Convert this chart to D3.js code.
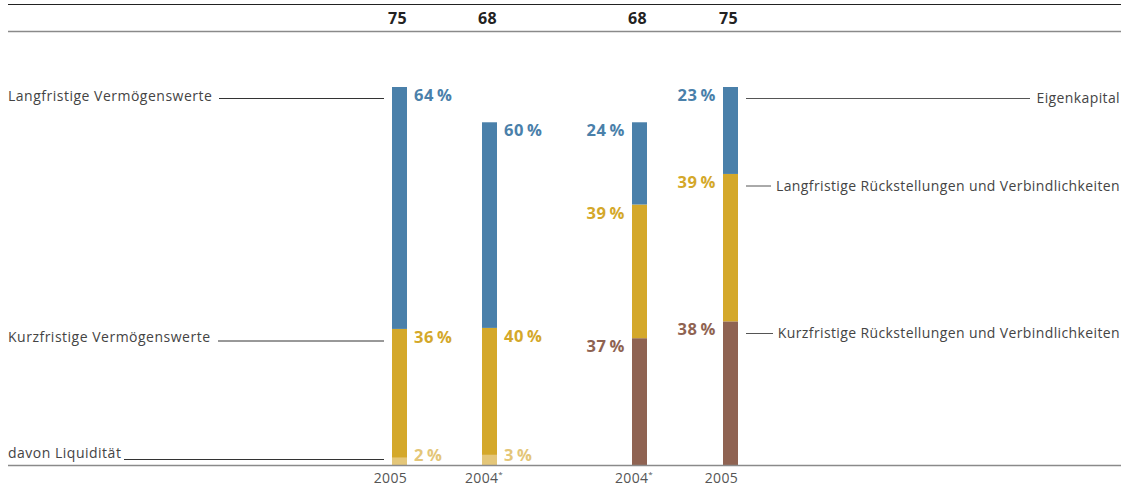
<!DOCTYPE html>
<html><head><meta charset="utf-8">
<script src="https://cdn.jsdelivr.net/npm/d3@7"></script>
<style>
html,body{margin:0;padding:0;background:#fff;}
svg{display:block;}
</style></head>
<body>
<script>
// ---- data ----
const categories = ["2005", "2004", "2004", "2005"];
const footnote = ["", "*", "*", ""];
const totals = [75, 68, 68, 75];
const sides = ["assets", "assets", "liab", "liab"];
// assets (bars 0,1)
const longAssets = [64, 60];
const shortAssets = [36, 40];
const liquidity = [2, 3];
// liabilities (bars 2,3)
const equity = [24, 23];
const longLiab = [39, 39];
const shortLiab = [37, 38];
const leftLabels = ["Langfristige Vermögenswerte", "Kurzfristige Vermögenswerte", "davon Liquidität"];
const rightLabels = ["Eigenkapital", "Langfristige Rückstellungen und Verbindlichkeiten", "Kurzfristige Rückstellungen und Verbindlichkeiten"];

const colors = {blue:"#4a80aa", yellow:"#d4a82a", light:"#e4c678", brown:"#8f6352"};
const W = 1124, H = 487;
const svg = d3.select("body").append("svg").attr("width", W).attr("height", H);
const font = "'Open Sans', Lato, sans-serif";
const pfont = "'Open Sans', Lato, sans-serif";

const y = d3.scaleLinear().domain([0, 75]).range([465, 87]);
const x = d3.scaleOrdinal().domain([0,1,2,3]).range([392, 482, 632, 723]);
const bw = 15;

// build segments
const bars = categories.map((c, i) => {
  let segs;
  if (sides[i] === "assets") {
    const k = i;
    segs = [
      {p: shortAssets[k], col: colors.yellow},
      {p: longAssets[k], col: colors.blue}
    ];
  } else {
    const k = i - 2;
    segs = [
      {p: shortLiab[k], col: colors.brown},
      {p: longLiab[k], col: colors.yellow},
      {p: equity[k], col: colors.blue}
    ];
  }
  let acc = 0;
  segs.forEach(s => { s.v0 = acc; acc += totals[i] * s.p / 100; s.v1 = acc; });
  return {i, segs};
});

// frame lines
svg.append("line").attr("x1", 8).attr("x2", 1121).attr("y1", 4.5).attr("y2", 4.5).attr("stroke", "#222").attr("stroke-width", 1.2);
svg.append("line").attr("x1", 8).attr("x2", 1121).attr("y1", 31.5).attr("y2", 31.5).attr("stroke", "#8a8a8a").attr("stroke-width", 1.5);

// bars
bars.forEach(b => {
  svg.selectAll(null).data(b.segs).enter().append("rect")
    .attr("x", x(b.i)).attr("width", bw)
    .attr("y", d => y(d.v1)).attr("height", d => y(d.v0) - y(d.v1))
    .attr("fill", d => d.col);
});
// liquidity overlay
liquidity.forEach((l, k) => {
  const v = totals[k] * l / 100;
  svg.append("rect").attr("x", x(k)).attr("width", bw).attr("y", y(v)).attr("height", y(0) - y(v)).attr("fill", colors.light);
});

// baseline
svg.append("line").attr("x1", 8).attr("x2", 1121).attr("y1", y(0) + 0.5).attr("y2", y(0) + 0.5).attr("stroke", "#8a8a8a").attr("stroke-width", 1.5);

function pct(sel, p) {
  sel.attr("font-family", pfont).attr("font-weight", 700).attr("font-size", 16.5)
    .attr("letter-spacing", 0.6);
  sel.append("tspan").text(p);
  sel.append("tspan").attr("dx", 3).text("%");
}

// percent labels
bars.forEach(b => {
  const left = sides[b.i] === "liab";
  b.segs.forEach(s => {
    const t = svg.append("text")
      .attr("x", left ? x(b.i) - 7 : x(b.i) + bw + 7)
      .attr("y", y(s.v1) + 14)
      .attr("text-anchor", left ? "end" : "start")
      .attr("fill", s.col);
    pct(t, s.p);
  });
});
liquidity.forEach((l, k) => {
  const t = svg.append("text").attr("x", x(k) + bw + 7).attr("y", 461).attr("fill", colors.light);
  pct(t, l);
});

// totals on top
totals.forEach((t, i) => {
  svg.append("text").attr("x", x(i) + bw / 2 - 2).attr("y", 24)
    .attr("text-anchor", "middle").attr("font-family", pfont).attr("font-weight", 700)
    .attr("font-size", 16).attr("letter-spacing", 0.3).attr("fill", "#222").text(t);
});

// category labels
categories.forEach((c, i) => {
  const t = svg.append("text").attr("x", x(i) + bw + (footnote[i] ? 6 : 0)).attr("y", 483)
    .attr("text-anchor", "end").attr("font-family", font).attr("font-size", 14)
    .attr("letter-spacing", 0.3).attr("fill", "#555");
  t.append("tspan").text(c);
  if (footnote[i]) t.append("tspan").attr("dy", -6).attr("font-size", 8).text(footnote[i]);
});

// left annotations
const leftY = [y(totals[0]), y(totals[0] * shortAssets[0] / 100), y(totals[0] * liquidity[0] / 100)];
const leftLineX0 = [219, 218, 124];
leftLabels.forEach((l, k) => {
  svg.append("text").attr("x", 8).attr("y", leftY[k] + [14, 13, 1][k])
    .attr("font-family", font).attr("font-size", 14).attr("letter-spacing", 0.5)
    .attr("fill", "#444").text(l);
  const ly = [98.5, 341, 459.5][k];
  svg.append("line").attr("x1", leftLineX0[k]).attr("x2", 384).attr("y1", ly).attr("y2", ly)
    .attr("stroke", "#333").attr("stroke-width", 1);
});

// right annotations
const rightLineY = [98.5, 186, 333.5];
const rightLineX1 = [1030, 771, 773];
rightLabels.forEach((l, k) => {
  svg.append("line").attr("x1", 746).attr("x2", rightLineX1[k]).attr("y1", rightLineY[k]).attr("y2", rightLineY[k])
    .attr("stroke", "#555").attr("stroke-width", 1);
  svg.append("text").attr("x", 1120).attr("y", rightLineY[k] + 4.5)
    .attr("text-anchor", "end").attr("font-family", font).attr("font-size", 14).attr("letter-spacing", 0.38)
    .attr("fill", "#444").text(l);
});
</script>
</body></html>
